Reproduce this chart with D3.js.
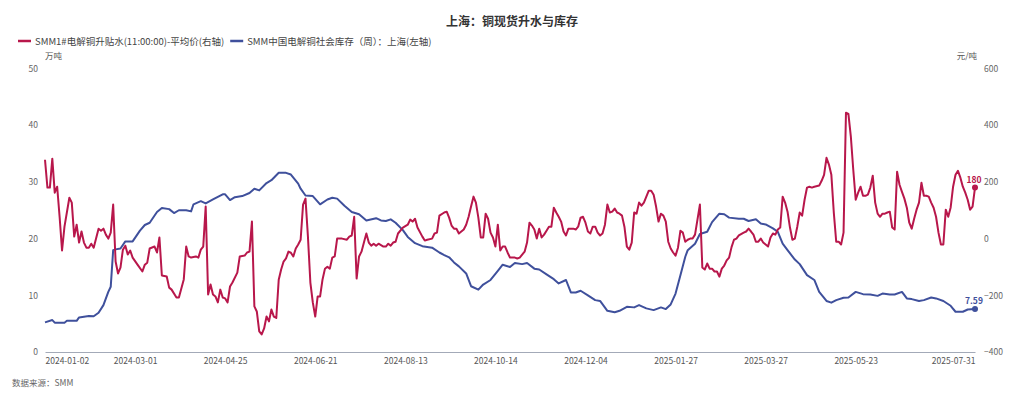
<!DOCTYPE html>
<html>
<head>
<meta charset="utf-8">
<script src="https://cdn.jsdelivr.net/npm/d3@7"></script>
<style>
  body { margin: 0; background: #fff; }
  text { font-family: "Noto Sans CJK SC", "Noto Sans", sans-serif; }
</style>
</head>
<body>
<svg id="chart"></svg>
<script>
// category axis: trading-day index, 383 days from 2024-01-02 to 2025-07-31
let dayCount = 383;
let xLabels = ['2024-01-02', '2024-03-01', '2024-04-25', '2024-06-21', '2024-08-13', '2024-10-14',
    '2024-12-04', '2025-01-27', '2025-03-27', '2025-05-23', '2025-07-31'];
let xLabelIdx = [0, 37, 74, 111, 148, 185, 222, 259, 296, 333, 382];
let leftTicks = [0, 10, 20, 30, 40, 50];
let rightTicks = [-400, -200, 0, 200, 400, 600];

// SMM1#电解铜升贴水 (元/吨), [day index, value]
let premium = [[0,278],[1,180],[2,180],[3,282],[4,162],[5,183],[6,77],[7,-42],[8,42],[10,144],[11,127],[12,7],[13,49],[14,-14],[15,25],[16,-14],[17,-32],[18,-32],[19,-18],[20,-32],[22,35],[23,28],[24,35],[25,14],[26,0],[27,21],[28,120],[29,-81],[30,-123],[31,-102],[32,-39],[33,-25],[34,-56],[35,-42],[36,-67],[38,-92],[40,-116],[41,-92],[42,-85],[43,-35],[45,-28],[46,-49],[47,4],[48,-130],[50,-134],[51,-173],[52,-180],[54,-208],[55,-208],[57,-144],[58,-28],[59,-63],[60,-67],[62,-63],[63,-67],[64,-39],[65,-28],[66,113],[67,-197],[68,-162],[69,-197],[70,-204],[71,-225],[72,-180],[73,-208],[74,-211],[75,-225],[76,-169],[77,-155],[79,-120],[80,-63],[82,-60],[83,-49],[84,-46],[85,60],[86,-239],[87,-257],[88,-327],[89,-338],[90,-317],[91,-275],[92,-292],[93,-250],[94,-275],[95,-280],[96,-145],[97,-109],[98,-81],[99,-70],[100,-46],[101,-50],[102,-63],[103,-35],[104,-21],[105,-4],[106,120],[107,141],[108,7],[109,-155],[110,-225],[111,-275],[112,-204],[113,-204],[114,-144],[115,-106],[116,-99],[117,-106],[118,-67],[119,-63],[120,0],[122,0],[124,-4],[125,7],[126,11],[127,77],[128,-141],[129,-63],[130,-46],[131,-14],[132,18],[133,-14],[134,-25],[135,-18],[136,-25],[137,-18],[139,-28],[140,-28],[141,-18],[142,-25],[143,-14],[144,-11],[145,18],[147,39],[149,49],[150,67],[151,60],[152,70],[153,39],[155,7],[156,-7],[157,-4],[159,0],[160,18],[161,21],[162,81],[164,92],[165,95],[166,74],[167,46],[168,35],[169,35],[170,18],[172,32],[173,49],[174,77],[175,113],[176,148],[177,127],[178,74],[179,4],[180,4],[181,88],[182,70],[183,21],[184,4],[185,-28],[186,49],[187,-42],[188,-28],[189,-28],[190,-49],[191,-67],[193,-67],[194,-70],[195,-67],[197,-46],[198,-14],[199,56],[200,46],[201,32],[202,0],[203,35],[204,4],[205,14],[206,28],[207,42],[208,42],[209,109],[210,92],[211,77],[212,60],[213,25],[214,11],[215,35],[217,35],[218,32],[219,42],[220,74],[221,77],[222,56],[223,25],[224,18],[225,42],[226,42],[227,21],[228,11],[229,18],[230,49],[231,120],[232,92],[233,95],[234,106],[235,92],[236,88],[237,81],[238,42],[239,-28],[240,-39],[241,-14],[242,92],[243,88],[244,127],[245,116],[246,127],[247,148],[248,169],[249,169],[250,155],[251,113],[252,60],[253,88],[254,81],[255,60],[256,-11],[257,-35],[258,-49],[259,-60],[260,-32],[261,28],[262,21],[263,-11],[264,-4],[265,0],[266,0],[267,14],[268,67],[269,120],[270,-102],[271,-109],[272,-88],[273,-106],[274,-106],[275,-116],[276,-116],[277,-134],[278,-106],[279,-95],[280,-77],[281,-67],[282,-30],[283,-4],[284,0],[285,11],[287,21],[288,25],[289,35],[290,25],[291,14],[292,-11],[293,-11],[294,0],[295,-14],[297,-28],[298,4],[299,18],[300,14],[301,32],[302,39],[303,148],[304,127],[305,95],[306,39],[307,-4],[308,0],[309,42],[310,92],[311,81],[312,137],[313,180],[314,183],[315,180],[316,183],[318,187],[319,204],[320,225],[321,285],[322,261],[323,225],[324,92],[325,-11],[326,-11],[327,-21],[328,21],[329,444],[330,440],[331,360],[332,243],[333,137],[334,162],[335,183],[336,151],[337,151],[338,155],[339,180],[340,222],[341,127],[342,88],[343,77],[344,88],[345,88],[346,92],[347,95],[348,39],[349,32],[350,236],[351,190],[352,165],[353,141],[354,109],[355,56],[356,35],[357,70],[358,102],[359,127],[360,197],[361,151],[362,151],[363,148],[364,127],[365,109],[366,77],[367,21],[368,-21],[369,-21],[370,102],[371,77],[372,110],[373,183],[374,225],[375,239],[376,215],[377,183],[378,162],[379,137],[380,102],[381,113],[382,180]];

// SMM中国电解铜社会库存（周）：上海 (万吨), [day index, value]
let stock = [[0,5.23],[3,5.63],[4,5.17],[8,5.17],[9,5.5],[13,5.5],[14,6.1],[18,6.34],[20,6.3],[22,6.92],[24,8.27],[26,10.6],[27,11.5],[28,17.96],[29,18.1],[31,18.25],[33,19.5],[36,19.5],[39,21.4],[41,22.4],[43,22.8],[46,24.7],[48,25.4],[51,25.2],[53,24.5],[55,25],[58,25],[60,24.8],[61,26.05],[64,26.6],[66,26.2],[69,26.9],[73,27.8],[74,27.8],[76,26.8],[78,27.3],[81,27.5],[84,28.05],[86,28.8],[88,28.5],[91,29.8],[93,30.3],[96,31.6],[99,31.6],[101,31.3],[104,29.7],[105,28.8],[107,27.6],[110,27.5],[113,26.05],[116,26.9],[118,27.2],[120,27.05],[123,25.8],[126,24.7],[129,24.3],[132,23.2],[136,23.6],[138,23.2],[140,23.1],[142,23.4],[144,22.8],[147,21.5],[149,20.3],[152,19.2],[155,18.66],[159,18.4],[162,17.55],[164,17.1],[166,16.7],[168,15.8],[170,15.1],[173,13.85],[175,11.6],[178,11.0],[180,11.9],[183,12.7],[186,14.3],[188,15.4],[191,15.0],[193,15.7],[196,15.5],[198,15.7],[201,14.7],[203,14.55],[206,13.7],[209,12.85],[211,12.1],[214,12.7],[216,10.5],[218,10.5],[220,10.8],[223,10.0],[226,9.15],[228,9.0],[231,7.27],[234,7.0],[236,7.27],[239,7.98],[242,7.87],[244,8.27],[247,7.69],[250,7.39],[253,7.87],[255,7.57],[257,8.39],[259,10.3],[261,13.55],[263,16.8],[264,17.96],[267,19.1],[269,20.8],[272,21.2],[274,22.9],[277,24.4],[279,24.3],[281,23.7],[285,23.5],[287,23.5],[289,23.1],[292,23.4],[294,22.65],[296,22.5],[299,21.8],[301,21.2],[303,19.1],[305,17.96],[308,16.3],[310,15.5],[313,13.55],[316,12.7],[318,10.6],[321,9.0],[323,8.7],[325,9.15],[328,9.56],[330,9.6],[333,10.6],[336,10.2],[339,10.15],[342,9.9],[344,10.3],[347,10.15],[349,10.15],[352,10.6],[354,9.45],[356,9.33],[359,8.98],[361,9.15],[364,9.6],[366,9.45],[369,9.0],[372,8.15],[374,7.1],[377,7.1],[379,7.5],[382,7.59]];

let redColor = '#b8174b';
let blueColor = '#3f509c';

let width = 1024, height = 399;
let margin = {top: 68.5, right: 49, bottom: 47, left: 45};

let svg = d3.select('#chart')
    .attr('width', width)
    .attr('height', height);

let xScale = d3.scaleLinear()
    .domain([0, dayCount - 1])
    .range([margin.left, width - margin.right]);

let yLeft = d3.scaleLinear()
    .domain([0, 50])
    .range([height - margin.bottom, margin.top]);

let yRight = d3.scaleLinear()
    .domain([-400, 600])
    .range([height - margin.bottom, margin.top]);

// title
svg.append('text')
    .attr('x', 512)
    .attr('y', 26)
    .attr('text-anchor', 'middle')
    .style('font-size', '12px')
    .style('font-weight', 'bold')
    .style('fill', '#333')
    .text('上海：铜现货升水与库存');

// legend
let legendItems = [
    {name: 'SMM1#电解铜升贴水(11:00:00)-平均价(右轴)', color: redColor},
    {name: 'SMM中国电解铜社会库存（周）：上海(左轴)', color: blueColor}
];
let lx = 18;
legendItems.forEach(function (item) {
    svg.append('line')
        .attr('x1', lx).attr('x2', lx + 13)
        .attr('y1', 41).attr('y2', 41)
        .attr('stroke', item.color)
        .attr('stroke-width', 2.5);
    let t = svg.append('text')
        .attr('x', lx + 17)
        .attr('y', 44.5)
        .style('font-size', '9.5px')
        .style('fill', '#444')
        .text(item.name);
    lx = lx + 17 + t.node().getComputedTextLength() + 6;
});

// axis units
svg.append('text')
    .attr('x', 45).attr('y', 58.5)
    .style('font-size', '8.5px').style('fill', '#555')
    .text('万吨');
svg.append('text')
    .attr('x', 977).attr('y', 58.5)
    .attr('text-anchor', 'end')
    .style('font-size', '8.5px').style('fill', '#555')
    .text('元/吨');

// axes
let xAxis = d3.axisBottom(xScale)
    .tickValues(xLabelIdx)
    .tickFormat(function (d, i) { return xLabels[i]; })
    .tickSize(0)
    .tickPadding(6);
let gx = svg.append('g')
    .attr('transform', 'translate(0,' + (height - margin.bottom) + ')')
    .call(xAxis);
gx.select('.domain').attr('stroke', '#a3aab8').attr('stroke-width', 1.2);
gx.selectAll('text')
    .style('font-size', '8.5px')
    .style('fill', '#555')
    .style('font-family', '"Noto Sans CJK SC", "Noto Sans", sans-serif')
    .attr('text-anchor', function (d, i) {
        if (i === 0) return 'start';
        if (i === xLabelIdx.length - 1) return 'end';
        return 'middle';
    });

let gl = svg.append('g')
    .attr('transform', 'translate(' + margin.left + ',0)')
    .call(d3.axisLeft(yLeft).tickValues(leftTicks).tickSize(0).tickPadding(7));
gl.select('.domain').remove();
gl.selectAll('text')
    .style('font-size', '8.5px')
    .style('fill', '#666')
    .style('font-family', '"Noto Sans CJK SC", "Noto Sans", sans-serif');

let gr = svg.append('g')
    .attr('transform', 'translate(' + (width - margin.right) + ',0)')
    .call(d3.axisRight(yRight).tickValues(rightTicks).tickSize(0).tickPadding(9));
gr.select('.domain').remove();
gr.selectAll('text')
    .style('font-size', '8.5px')
    .style('fill', '#666')
    .style('font-family', '"Noto Sans CJK SC", "Noto Sans", sans-serif');

// lines
let blueLine = d3.line()
    .x(function (d) { return xScale(d[0]); })
    .y(function (d) { return yLeft(d[1]); });
let redLine = d3.line()
    .x(function (d) { return xScale(d[0]); })
    .y(function (d) { return yRight(d[1]); });

svg.append('path')
    .datum(stock)
    .attr('fill', 'none')
    .attr('stroke', blueColor)
    .attr('stroke-width', 2)
    .attr('stroke-linejoin', 'round')
    .attr('d', blueLine);

svg.append('path')
    .datum(premium)
    .attr('fill', 'none')
    .attr('stroke', redColor)
    .attr('stroke-width', 2)
    .attr('stroke-linejoin', 'round')
    .attr('d', redLine);

// last value markers
let lastRed = premium[premium.length - 1];
let lastBlue = stock[stock.length - 1];
let ends = [
    {x: xScale(lastRed[0]), y: yRight(lastRed[1]), label: String(lastRed[1]), color: redColor},
    {x: xScale(lastBlue[0]), y: yLeft(lastBlue[1]), label: String(lastBlue[1]), color: blueColor}
];
ends.forEach(function (e) {
    svg.append('circle')
        .attr('cx', e.x).attr('cy', e.y)
        .attr('r', 3)
        .attr('fill', e.color);
    svg.append('text')
        .attr('x', e.x - 1)
        .attr('y', e.y - 5)
        .attr('text-anchor', 'middle')
        .style('font-size', '8.5px')
        .style('font-weight', 'bold')
        .style('fill', e.color)
        .text(e.label);
});

// source
svg.append('text')
    .attr('x', 12).attr('y', 385.5)
    .style('font-size', '8.5px')
    .style('fill', '#666')
    .text('数据来源：SMM');
</script>
</body>
</html>
